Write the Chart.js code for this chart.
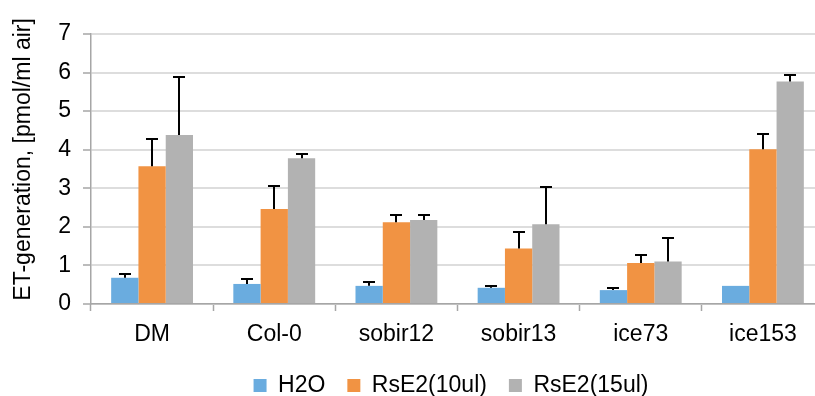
<!DOCTYPE html>
<html>
<head>
<meta charset="utf-8">
<script src="https://cdn.jsdelivr.net/npm/chart.js@4/dist/chart.umd.min.js"></script>
<style>
  html, body { margin: 0; padding: 0; background: #fff; overflow: hidden; }
  #wrap { width: 902px; height: 396px; }
</style>
</head>
<body>
<div id="wrap"><canvas id="c" width="902" height="396"></canvas></div>
<script>
// Ethylene generation per genotype, mean values and standard deviations
const categories = ['DM', 'Col-0', 'sobir12', 'sobir13', 'ice73', 'ice153'];
const seriesNames = ['H2O', 'RsE2(10ul)', 'RsE2(15ul)'];
const h2o      = [0.68, 0.52, 0.47, 0.42, 0.36, 0.47];
const h2oErr   = [0.11, 0.12, 0.11, 0.05, 0.06, 0.00];
const rs10     = [3.57, 2.46, 2.12, 1.44, 1.06, 4.01];
const rs10Err  = [0.72, 0.60, 0.18, 0.43, 0.22, 0.39];
const rs15     = [4.38, 3.78, 2.18, 2.07, 1.10, 5.77];
const rs15Err  = [1.50, 0.12, 0.12, 0.97, 0.61, 0.18];
const yTicks   = [0, 1, 2, 3, 4, 5, 6, 7];

const FONT = "'Liberation Sans', Arial, sans-serif";
const colors = ['#6AACDF', '#F19343', '#B2B2B2'];
const errors = [h2oErr, rs10Err, rs15Err];

// Draws a one-sided (upper) error bar with a cap on every bar
const errorBars = {
  id: 'errorBars',
  afterDatasetsDraw(chart) {
    const ctx = chart.ctx;
    const y = chart.scales.y;
    ctx.save();
    ctx.strokeStyle = '#000';
    ctx.lineWidth = 2;
    chart.data.datasets.forEach((ds, di) => {
      const meta = chart.getDatasetMeta(di);
      meta.data.forEach((bar, i) => {
        const err = errors[di][i];
        if (!err) return;
        const x = Math.round(bar.x);
        const y0 = y.getPixelForValue(ds.data[i]);
        const y1 = Math.round(y.getPixelForValue(ds.data[i] + err));
        ctx.beginPath();
        ctx.moveTo(x, y0);
        ctx.lineTo(x, y1);
        ctx.moveTo(x - 6, y1);
        ctx.lineTo(x + 6, y1);
        ctx.stroke();
      });
    });
    ctx.restore();
  }
};

new Chart(document.getElementById('c'), {
  type: 'bar',
  data: {
    labels: categories,
    datasets: [h2o, rs10, rs15].map((vals, k) => ({
      label: seriesNames[k],
      data: vals,
      backgroundColor: colors[k],
      borderWidth: 0,
      barPercentage: 1,
      categoryPercentage: 0.67
    }))
  },
  options: {
    responsive: false,
    animation: false,
    devicePixelRatio: 1,
    layout: { padding: { top: 34, left: 0, right: 0, bottom: -11 } },
    plugins: {
      tooltip: { enabled: false },
      legend: {
        position: 'bottom',
        labels: {
          font: { family: FONT, size: 23 },
          color: '#000',
          boxWidth: 13,
          boxHeight: 13,
          padding: 22
        }
      }
    },
    scales: {
      x: {
        grid: {
          offset: true,
          drawOnChartArea: false,
          drawTicks: true,
          tickLength: 7,
          tickColor: '#A6A6A6',
          tickWidth: 1.5
        },
        border: { color: '#A6A6A6', width: 1.5 },
        ticks: { font: { family: FONT, size: 23 }, color: '#000', padding: 10 },
        afterFit(s) { s.height = 48; }
      },
      y: {
        min: 0,
        max: 7,
        afterBuildTicks(s) { s.ticks = yTicks.map(v => ({ value: v })); },
        grid: {
          color: '#DDDDDD',
          lineWidth: 2,
          tickLength: 8,
          tickColor: '#A6A6A6',
          tickWidth: 1.5
        },
        border: { color: '#A6A6A6', width: 1.5 },
        ticks: { font: { family: FONT, size: 23 }, color: '#000', padding: 12 },
        title: {
          display: true,
          text: '   ET-generation, [pmol/ml air]',
          font: { family: FONT, size: 23 },
          color: '#000',
          padding: { top: 10, bottom: 0 }
        },
        afterFit(s) { s.width = 91; }
      },
      gap: {
        type: 'linear',
        position: 'right',
        display: true,
        grid: { display: false, drawTicks: false },
        border: { display: false },
        ticks: { display: false },
        afterFit(s) { s.width = 78; }
      }
    }
  },
  plugins: [errorBars]
});
</script>
</body>
</html>
